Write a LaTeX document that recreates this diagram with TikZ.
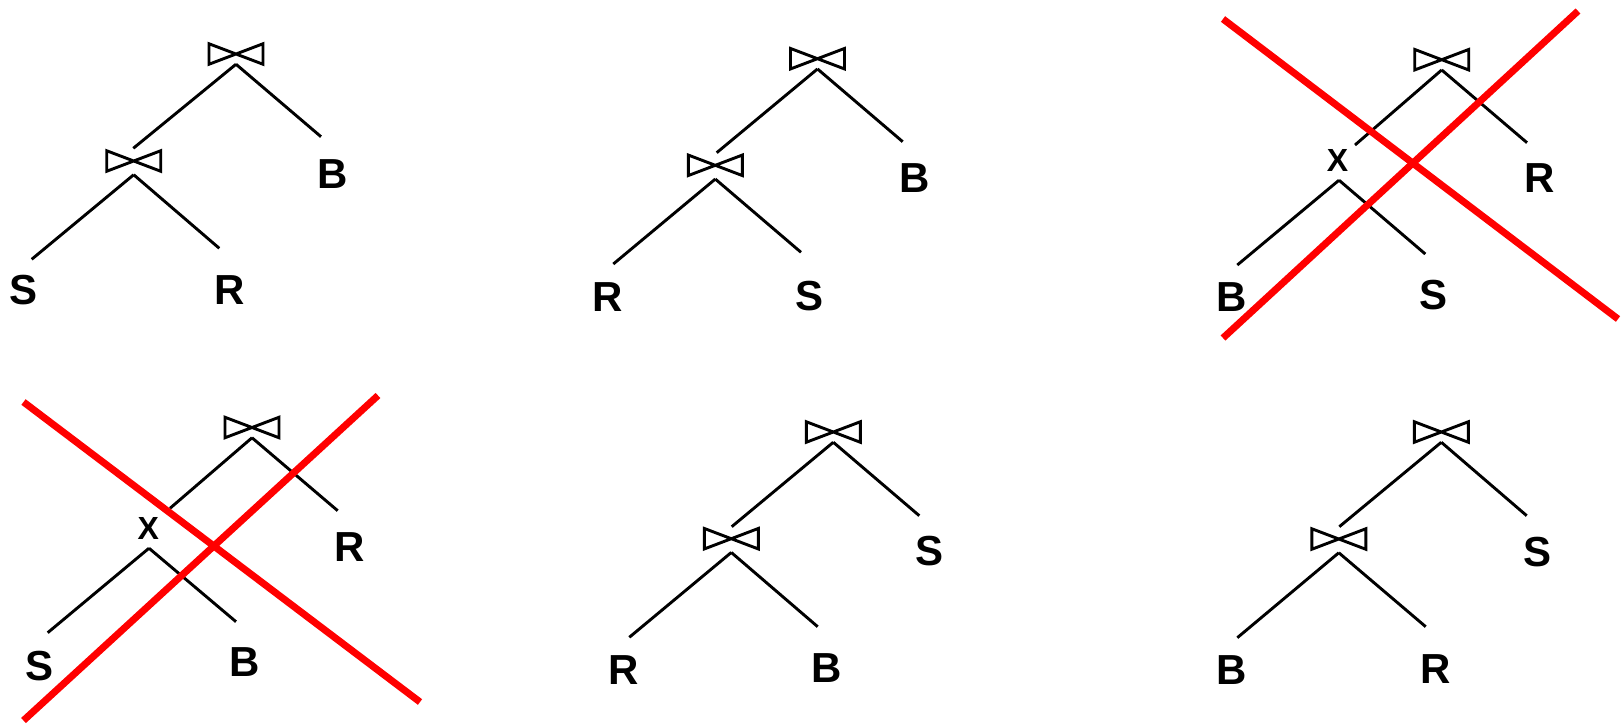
\documentclass[tikz,border=0pt]{standalone}
\usepackage{fontspec}
\setmainfont{Liberation Sans}
\begin{document}
\begin{tikzpicture}[x=1pt,y=-1pt,
  joinop/.style={minimum width=54pt, minimum height=20.5pt, inner sep=0pt, outer sep=0pt,
    append after command={\pgfextra{\draw[line width=2.9pt, line join=miter]
      (\tikzlastnode.north west) -- (\tikzlastnode.south west) --
      (\tikzlastnode.north east) -- (\tikzlastnode.south east) -- cycle;}}},
  rel/.style={inner sep=0pt, font=\fontsize{42}{42}\selectfont\bfseries},
  prod/.style={inner sep=0pt, font=\fontsize{32}{32}\selectfont\bfseries},
  link/.style={line width=2.9pt},
  strike/.style={red, line width=7pt}]
\useasboundingbox (0,0) rectangle (1621,726);

% ---------- Tree 1 ----------
\node[joinop] (j1a) at (236,54) {};
\node[joinop] (j1b) at (133.7,161) {};
\coordinate (e1a) at (133.3,148.3);
\coordinate (e1b) at (321,136.7);
\coordinate (e1c) at (31.7,259.3);
\coordinate (e1d) at (219.3,248.3);
\node[rel] (b1) at (333,174) {B};
\node[rel] (s1) at (24,290) {S};
\node[rel] (r1) at (230,290) {R};
\draw[link] (j1a.south) -- (e1a);
\draw[link] (j1a.south) -- (e1b);
\draw[link] ([yshift=-3.5pt]j1b.south) -- (e1c);
\draw[link] ([yshift=-3.5pt]j1b.south) -- (e1d);

% ---------- Tree 2 ----------
\node[joinop] (j2a) at (817.5,58.7) {};
\node[joinop] (j2b) at (715.3,165.3) {};
\coordinate (e2a) at (716.7,152.7);
\coordinate (e2b) at (902.7,141.7);
\coordinate (e2c) at (613.3,264);
\coordinate (e2d) at (801,252.3);
\node[rel] (b2) at (914.5,177.7) {B};
\node[rel] (r2) at (607.5,296.7) {R};
\node[rel] (s2) at (809.5,296) {S};
\draw[link] (j2a.south) -- (e2a);
\draw[link] (j2a.south) -- (e2b);
\draw[link] ([yshift=-3.5pt]j2b.south) -- (e2c);
\draw[link] ([yshift=-3.5pt]j2b.south) -- (e2d);

% ---------- Tree 3 ----------
\node[joinop] (j3a) at (1441.7,59.7) {};
\node[prod] (x3) at (1337.5,160) {X};
\coordinate (e3a) at (1355,145);
\coordinate (e3b) at (1527,142.7);
\coordinate (e3c) at (1237.3,265);
\coordinate (e3d) at (1425.3,254);
\node[rel] (b3) at (1231.7,297) {B};
\node[rel] (s3) at (1433.3,295.5) {S};
\node[rel] (r3) at (1539.7,177.8) {R};
\draw[link] (j3a.south) -- (e3a);
\draw[link] (j3a.south) -- (e3b);
\draw[link] ([xshift=1.5pt,yshift=-9pt]x3.south) -- (e3c);
\draw[link] ([xshift=1.5pt,yshift=-9pt]x3.south) -- (e3d);

% ---------- Tree 4 ----------
\node[joinop] (j4a) at (252,427.5) {};
\node[prod] (x4) at (148.3,528.5) {X};
\coordinate (e4a) at (170,508.3);
\coordinate (e4b) at (337.7,510.7);
\coordinate (e4c) at (47.7,632.7);
\coordinate (e4d) at (236,621.7);
\node[rel] (s4) at (40,666) {S};
\node[rel] (b4) at (245,662.5) {B};
\node[rel] (r4) at (350,546.7) {R};
\draw[link] (j4a.south) -- (e4a);
\draw[link] (j4a.south) -- (e4b);
\draw[link] ([xshift=0.7pt,yshift=-8.5pt]x4.south) -- (e4c);
\draw[link] ([xshift=0.7pt,yshift=-8.5pt]x4.south) -- (e4d);

% ---------- Tree 5 ----------
\node[joinop] (j5a) at (833.3,432) {};
\node[joinop] (j5b) at (731.3,538.7) {};
\coordinate (e5a) at (731.7,526.7);
\coordinate (e5b) at (919.3,515.7);
\coordinate (e5c) at (629.3,637.3);
\coordinate (e5d) at (817.7,626.7);
\node[rel] (s5) at (929,551.3) {S};
\node[rel] (r5) at (624,670) {R};
\node[rel] (b5) at (826.7,668.3) {B};
\draw[link] (j5a.south) -- (e5a);
\draw[link] (j5a.south) -- (e5b);
\draw[link] ([yshift=-3.5pt]j5b.south) -- (e5c);
\draw[link] ([yshift=-3.5pt]j5b.south) -- (e5d);

% ---------- Tree 6 ----------
\node[joinop] (j6a) at (1441.3,432) {};
\node[joinop] (j6b) at (1338.8,539) {};
\coordinate (e6a) at (1339.3,526.7);
\coordinate (e6b) at (1526.7,515.7);
\coordinate (e6c) at (1237.3,637.7);
\coordinate (e6d) at (1425.7,626.7);
\node[rel] (s6) at (1537.3,551.7) {S};
\node[rel] (b6) at (1232,670) {B};
\node[rel] (r6) at (1435.8,668.8) {R};
\draw[link] (j6a.south) -- (e6a);
\draw[link] (j6a.south) -- (e6b);
\draw[link] ([yshift=-3.5pt]j6b.south) -- (e6c);
\draw[link] ([yshift=-3.5pt]j6b.south) -- (e6d);

% ---------- strike-throughs ----------
\coordinate (k3a) at (1223,19);
\coordinate (k3b) at (1618,319);
\coordinate (k3c) at (1578,11);
\coordinate (k3d) at (1223,338);
\draw[strike] (k3a) -- (k3b);
\draw[strike] (k3c) -- (k3d);

\coordinate (k4a) at (23.5,402);
\coordinate (k4b) at (420,702);
\coordinate (k4c) at (378,395.5);
\coordinate (k4d) at (23.5,720.5);
\draw[strike] (k4a) -- (k4b);
\draw[strike] (k4c) -- (k4d);
\end{tikzpicture}
\end{document}
